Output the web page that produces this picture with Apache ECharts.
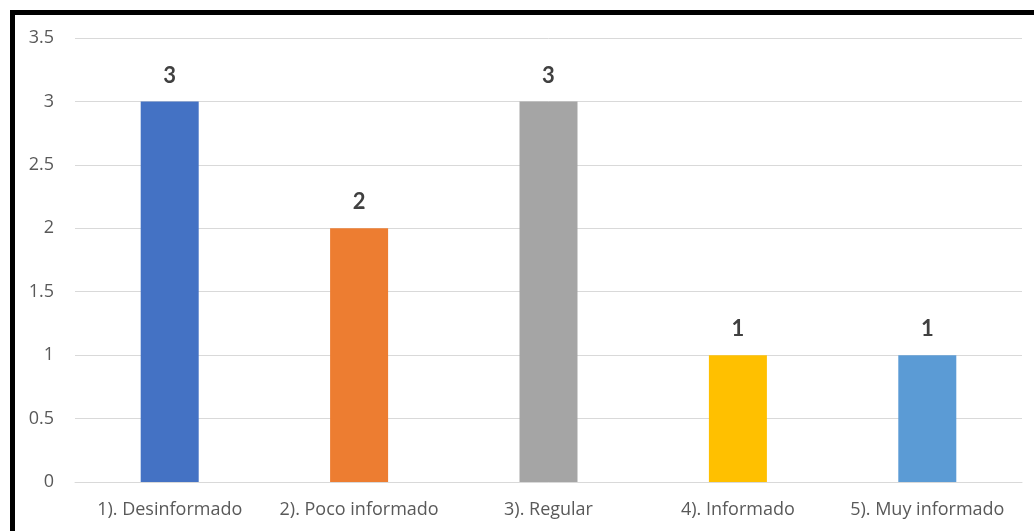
<!DOCTYPE html>
<html>
<head>
<meta charset="utf-8">
<script src="https://cdn.jsdelivr.net/npm/echarts@6/dist/echarts.min.js"></script>
<style>
    html, body { margin: 0; padding: 0; background: #fff; overflow: hidden; }
    #frame { position: absolute; left: 10px; top: 10px; width: 1100px; height: 600px; border: 5px solid #000; box-sizing: border-box; }
    #chart { position: absolute; left: 0; top: 0; width: 1034px; height: 531px; }
</style>
</head>
<body>
<div id="frame"></div>
<div id="chart"></div>
<script>
const categories = ["1). Desinformado", "2). Poco informado", "3). Regular", "4). Informado", "5). Muy informado"];
const values = [3, 2, 3, 1, 1];
const barColors = ["#4472C4", "#ED7D31", "#A5A5A5", "#FFC000", "#5B9BD5"];
const yTicks = { min: 0, max: 3.5, interval: 0.5 };

const chart = echarts.init(document.getElementById("chart"));

chart.setOption({
    backgroundColor: "transparent",
    animation: false,
    grid: { left: 75, right: 12, top: 38, bottom: 49 },
    xAxis: {
        type: "category",
        data: categories,
        axisLine: { lineStyle: { color: "#d9d9d9", width: 1 } },
        axisTick: { show: false },
        axisLabel: { interval: 0, color: "#595959", fontSize: 18, margin: 19, fontFamily: "Open Sans" },
    },
    yAxis: {
        type: "value",
        min: yTicks.min,
        max: yTicks.max,
        interval: yTicks.interval,
        axisLine: { show: false },
        axisTick: { show: false },
        axisLabel: { color: "#595959", fontSize: 18, margin: 21, fontFamily: "Open Sans" },
        splitLine: { lineStyle: { color: "#d9d9d9", width: 1 } },
    },
    series: [{
        type: "bar",
        barWidth: 58,
        data: values.map((v, i) => ({ value: v, itemStyle: { color: barColors[i] } })),
        label: {
            show: true,
            position: "top",
            distance: 15,
            color: "#404040",
            fontSize: 22,
            fontWeight: "bold",
            fontFamily: "Lato",
        },
    }],
});
</script>
</body>
</html>
